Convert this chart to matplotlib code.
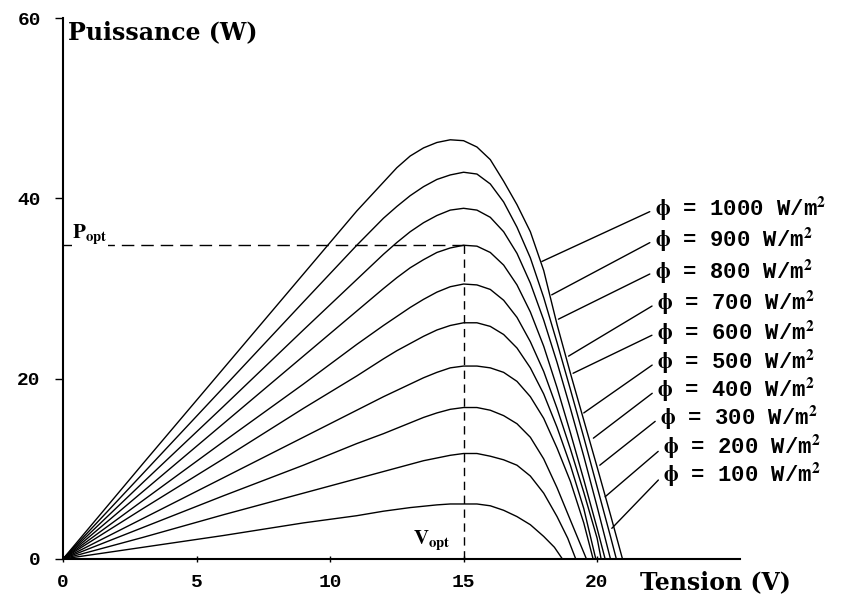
import numpy as np
import matplotlib.pyplot as plt

plt.rcParams['mathtext.fontset'] = 'stix'

# courbes P(V), une par eclairement
v_1000 = [0, 3, 6, 9, 11, 12, 12.5, 13, 13.5, 14, 14.5, 15, 15.5, 16, 16.5, 17, 17.5, 18, 18.5, 19, 19.5, 20, 20.5, 20.95]
p_1000 = [0, 10.6, 21.1, 31.6, 38.6, 41.8, 43.4, 44.7, 45.6, 46.2, 46.5, 46.4, 45.7, 44.3, 41.9, 39.3, 36.3, 32.0, 26.0, 20.6, 15.4, 10.2, 4.9, 0]

v_900 = [0, 3, 6, 9, 11, 12, 12.5, 13, 13.5, 14, 14.5, 15, 15.5, 16, 16.5, 17, 17.5, 18, 18.5, 19, 19.5, 20, 20.5, 20.72]
p_900 = [0, 9.5, 19.0, 28.5, 34.8, 37.8, 39.1, 40.3, 41.3, 42.1, 42.6, 42.9, 42.7, 41.6, 39.6, 36.8, 33.4, 29.0, 24.0, 18.8, 13.5, 8.0, 2.5, 0]

v_800 = [0, 3, 6, 9, 11, 12, 12.5, 13, 13.5, 14, 14.5, 15, 15.5, 16, 16.5, 17, 17.5, 18, 18.5, 19, 19.5, 20, 20.5]
p_800 = [0, 8.5, 16.9, 25.4, 31.0, 33.8, 35.1, 36.3, 37.3, 38.1, 38.7, 38.9, 38.7, 37.9, 36.3, 33.9, 30.6, 26.5, 21.8, 16.7, 11.4, 5.8, 0]

v_700 = [0, 3, 6, 9, 11, 12, 12.5, 13, 13.5, 14, 14.5, 15, 15.5, 16, 16.5, 17, 17.5, 18, 18.5, 19, 19.5, 20, 20.3]
p_700 = [0, 7.5, 15.0, 22.5, 27.5, 30.0, 31.2, 32.3, 33.2, 34.0, 34.5, 34.8, 34.7, 34.0, 32.6, 30.4, 27.4, 23.6, 19.0, 14.0, 8.8, 3.4, 0]

v_600 = [0, 3, 6, 9, 11, 12, 12.5, 13, 13.5, 14, 14.5, 15, 15.5, 16, 16.5, 17, 17.5, 18, 18.5, 19, 19.5, 20, 20.15]
p_600 = [0, 6.5, 13.0, 19.4, 23.8, 25.9, 26.9, 27.9, 28.8, 29.6, 30.2, 30.5, 30.4, 29.9, 28.7, 26.8, 24.1, 20.8, 16.7, 12.2, 7.4, 2.3, 0]

v_500 = [0, 3, 6, 9, 11, 12, 12.5, 13, 13.5, 14, 14.5, 15, 15.5, 16, 16.5, 17, 17.5, 18, 18.5, 19, 19.5, 19.95]
p_500 = [0, 5.6, 11.1, 16.7, 20.3, 22.2, 23.1, 23.9, 24.7, 25.4, 25.9, 26.2, 26.2, 25.8, 24.9, 23.4, 21.2, 18.3, 14.6, 10.4, 5.6, 0]

v_400 = [0, 3, 6, 9, 11, 12, 12.5, 13, 13.5, 14, 14.5, 15, 15.5, 16, 16.5, 17, 17.5, 18, 18.5, 19, 19.5, 19.85]
p_400 = [0, 4.5, 9.0, 13.5, 16.5, 18.0, 18.7, 19.4, 20.1, 20.7, 21.2, 21.4, 21.4, 21.2, 20.7, 19.7, 18.0, 15.6, 12.3, 8.6, 4.0, 0]

v_300 = [0, 3, 6, 9, 11, 12, 12.5, 13, 13.5, 14, 14.5, 15, 15.5, 16, 16.5, 17, 17.5, 18, 18.5, 19, 19.6]
p_300 = [0, 3.5, 7.0, 10.4, 12.8, 13.9, 14.5, 15.1, 15.7, 16.2, 16.6, 16.8, 16.8, 16.5, 15.9, 15.0, 13.5, 11.1, 7.9, 4.3, 0]

v_200 = [0, 3, 6, 9, 11, 12, 12.5, 13, 13.5, 14, 14.5, 15, 15.5, 16, 16.5, 17, 17.5, 18, 18.5, 18.9, 19.2]
p_200 = [0, 2.4, 4.9, 7.3, 8.9, 9.7, 10.1, 10.5, 10.9, 11.2, 11.5, 11.7, 11.7, 11.4, 11.0, 10.4, 9.2, 7.3, 4.7, 2.3, 0]

v_100 = [0, 3, 6, 9, 11, 12, 12.5, 13, 13.5, 14, 14.5, 15, 15.5, 16, 16.5, 17, 17.5, 18, 18.4, 18.7]
p_100 = [0, 1.3, 2.6, 4.0, 4.8, 5.3, 5.5, 5.7, 5.85, 6.0, 6.1, 6.1, 6.1, 5.9, 5.4, 4.7, 3.8, 2.5, 1.3, 0]

eclairements = [1000, 900, 800, 700, 600, 500, 400, 300, 200, 100]
courbes = [(v_1000, p_1000), (v_900, p_900), (v_800, p_800), (v_700, p_700),
           (v_600, p_600), (v_500, p_500), (v_400, p_400), (v_300, p_300),
           (v_200, p_200), (v_100, p_100)]

v_opt = 15
p_opt = 34.8

x_ticks = [0, 5, 10, 15, 20]
y_ticks = [0, 20, 40, 60]

# position des etiquettes et bout des traits de rappel (coord. donnees)
label_pos = [(22.17, 38.8), (22.17, 35.4), (22.17, 31.9), (22.25, 28.4), (22.25, 25.1),
             (22.25, 21.9), (22.25, 18.8), (22.36, 15.7), (22.47, 12.4), (22.47, 9.3)]
leader_tips = [(17.93, 33.0), (18.3, 29.3), (18.55, 26.6), (18.93, 22.5), (19.1, 20.6),
               (19.5, 16.2), (19.86, 13.4), (20.1, 10.4), (20.3, 6.9), (20.55, 3.4)]

fig = plt.figure(figsize=(8.41, 5.97), dpi=100)
ax = fig.add_axes([0.0749, 0.0637, 0.805, 0.906])

for v, p in courbes:
    ax.plot(v, p, color='black', lw=1.0)

# Popt / Vopt
ax.plot([0, v_opt], [p_opt, p_opt], color='black', lw=1.0, dashes=(9, 5))
ax.plot([v_opt, v_opt], [0, p_opt], color='black', lw=1.0, dashes=(6, 4))
ax.text(0.35, 36.0, r'$\mathbf{P_{opt}}$', fontsize=15, ha='left', va='center',
        bbox=dict(facecolor='white', edgecolor='none', pad=0))
ax.text(14.5, 2.0, r'$\mathbf{V_{opt}}$', fontsize=15, ha='right', va='center')

for e, (lx, ly), tip in zip(eclairements, label_pos, leader_tips):
    ax.annotate(r'$\mathbf{\phi}$ = %d W/m$^{\mathbf{2}}$' % e, xy=tip, xytext=(lx, ly),
                fontsize=16, fontfamily='Liberation Mono', fontweight='bold',
                ha='left', va='center', annotation_clip=False,
                arrowprops=dict(arrowstyle='-', color='black', lw=1.0,
                                relpos=(0, 0.5), shrinkA=2, shrinkB=0))

ax.set_xlim(0, 25.35)
ax.set_ylim(0, 60)
ax.spines['top'].set_visible(False)
ax.spines['right'].set_visible(False)
ax.spines['left'].set_linewidth(1.5)
ax.spines['bottom'].set_linewidth(1.5)

ax.set_xticks(x_ticks)
ax.set_yticks(y_ticks)
ax.tick_params(axis='x', direction='inout', length=4, width=1, pad=9)
ax.tick_params(axis='y', direction='out', length=6, width=1, pad=10)
for lab in ax.get_xticklabels() + ax.get_yticklabels():
    lab.set_fontfamily('Liberation Mono')
    lab.set_fontweight('bold')
    lab.set_fontsize(14)

ax.text(0.2, 58.4, 'Puissance (W)', fontsize=17, fontfamily='DejaVu Serif',
        fontweight='bold', ha='left', va='center')
ax.text(21.6, -2.6, 'Tension (V)', fontsize=17, fontfamily='DejaVu Serif',
        fontweight='bold', ha='left', va='center', clip_on=False)

fig.savefig('out.png', dpi=100)
